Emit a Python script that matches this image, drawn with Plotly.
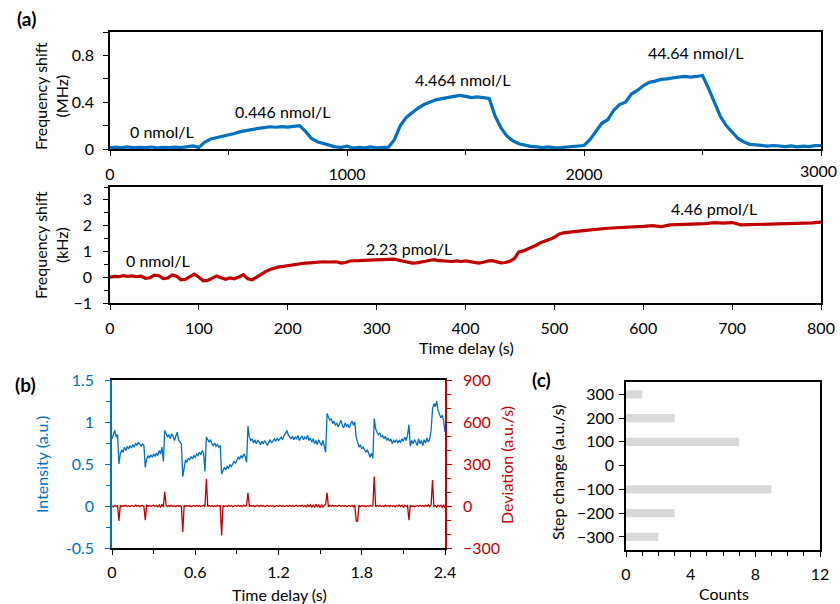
import plotly.graph_objects as go

# ---------------- data ----------------
# (a) top: frequency shift (MHz) vs time delay (s), sampled every 25 s
a1_time = list(range(0, 3001, 25))
a1_shift = [
    0.010, 0.016, 0.012, 0.018, 0.010, 0.015, 0.012, 0.017, 0.010, 0.014,
    0.011, 0.016, 0.012, 0.018, 0.026, 0.014, 0.060, 0.085, 0.095, 0.108,
    0.118, 0.132, 0.148, 0.158, 0.170, 0.176, 0.183, 0.190, 0.186, 0.192,
    0.187, 0.191, 0.200, 0.150, 0.090, 0.062, 0.045, 0.030, 0.018, 0.014,
    0.024, 0.008, 0.015, 0.010, 0.018, 0.010, 0.014, 0.016, 0.080, 0.200,
    0.270, 0.310, 0.350, 0.380, 0.400, 0.420, 0.430, 0.440, 0.452, 0.458,
    0.450, 0.440, 0.446, 0.440, 0.432, 0.280, 0.180, 0.110, 0.070, 0.045,
    0.030, 0.022, 0.018, 0.012, 0.018, 0.010, 0.012, 0.016, 0.018, 0.025,
    0.030, 0.080, 0.150, 0.220, 0.250, 0.330, 0.380, 0.400, 0.470, 0.500,
    0.540, 0.570, 0.580, 0.595, 0.600, 0.610, 0.615, 0.620, 0.615, 0.620,
    0.628, 0.520, 0.400, 0.280, 0.200, 0.140, 0.090, 0.060, 0.040, 0.035,
    0.030, 0.025, 0.030, 0.025, 0.020, 0.026, 0.018, 0.025, 0.020, 0.028,
    0.030,
]
a1_ticks = [0, 1000, 2000, 3000]
a1_labels = ["0 nmol/L", "0.446 nmol/L", "4.464 nmol/L", "44.64 nmol/L"]

# (a) bottom: frequency shift (kHz) vs time delay (s)
a2_time = list(range(0, 561, 5)) + list(range(570, 801, 10))
a2_shift = [
    0.00, 0.03, 0.02, 0.06, 0.03, 0.05, 0.02, 0.04, -0.04, -0.02,
    0.08, 0.06, -0.05, -0.03, 0.09, 0.04, -0.10, -0.08, 0.02, 0.12,
    0.00, -0.14, -0.12, -0.02, 0.05, -0.02, -0.08, -0.03, -0.06, 0.01,
    0.10, -0.06, -0.10, 0.00, 0.12, 0.22, 0.30, 0.36, 0.40, 0.42,
    0.45, 0.48, 0.51, 0.52, 0.55, 0.56, 0.58, 0.57, 0.60, 0.59,
    0.61, 0.60, 0.55, 0.57, 0.63, 0.65, 0.64, 0.65, 0.66, 0.67,
    0.68, 0.70, 0.71, 0.72, 0.70, 0.66, 0.62, 0.58, 0.55, 0.56,
    0.58, 0.62, 0.66, 0.68, 0.64, 0.62, 0.60, 0.61, 0.63, 0.61,
    0.63, 0.60, 0.56, 0.55, 0.58, 0.63, 0.64, 0.60, 0.56, 0.57,
    0.62, 0.72, 0.98, 1.02, 1.10, 1.15, 1.25, 1.35, 1.40, 1.47,
    1.55, 1.67, 1.72, 1.75, 1.77, 1.78, 1.80, 1.82, 1.83, 1.84,
    1.88, 1.90, 1.90,
    1.92, 1.93, 1.95, 1.97, 2.00, 1.96, 2.03, 2.04, 2.06, 2.05,
    2.08, 2.12, 2.10, 2.12, 2.03, 2.04, 2.05, 2.06, 2.04, 2.06,
    2.09, 2.08, 2.11, 2.14,
]
a2_labels = ["0 nmol/L", "2.23 pmol/L", "4.46 pmol/L"]

# (b): intensity (a.u.) and deviation (a.u./s) vs time delay (s), every 0.01 s
b_time = [i / 100 for i in range(241)]
b_intensity = [
    0.80, 0.86, 0.90, 0.82, 0.85, 0.50, 0.62, 0.67, 0.64, 0.70,
    0.66, 0.71, 0.68, 0.72, 0.69, 0.73, 0.70, 0.75, 0.72, 0.76,
    0.73, 0.71, 0.74, 0.72, 0.46, 0.56, 0.60, 0.57, 0.61, 0.58,
    0.62, 0.59, 0.63, 0.60, 0.66, 0.62, 0.70, 0.53, 0.90, 0.86,
    0.82, 0.85, 0.80, 0.86, 0.83, 0.78, 0.82, 0.88, 0.79, 0.76,
    0.74, 0.35, 0.48, 0.55, 0.52, 0.57, 0.55, 0.59, 0.56, 0.60,
    0.58, 0.62, 0.60, 0.64, 0.61, 0.66, 0.63, 0.41, 0.82, 0.78,
    0.76, 0.79, 0.74, 0.72, 0.75, 0.71, 0.73, 0.70, 0.72, 0.38,
    0.42, 0.46, 0.43, 0.47, 0.45, 0.49, 0.47, 0.50, 0.53, 0.51,
    0.55, 0.58, 0.56, 0.60, 0.57, 0.62, 0.59, 0.52, 0.95, 0.82,
    0.78, 0.80, 0.75, 0.79, 0.74, 0.78, 0.76, 0.73, 0.77, 0.74,
    0.78, 0.75, 0.72, 0.76, 0.79, 0.75, 0.78, 0.80, 0.77, 0.81,
    0.78, 0.80, 0.82, 0.79, 0.84, 0.86, 0.90, 0.85, 0.82, 0.80,
    0.83, 0.79, 0.82, 0.80, 0.84, 0.78, 0.81, 0.83, 0.79, 0.82,
    0.80, 0.84, 0.78, 0.81, 0.76, 0.80, 0.74, 0.78, 0.73, 0.79,
    0.75, 0.72, 0.78, 0.70, 0.64, 1.10, 1.06, 1.02, 1.04, 0.98,
    1.01, 0.96, 0.99, 0.94, 0.98, 1.02, 0.96, 0.93, 0.99, 0.95,
    0.97, 0.93, 0.98, 1.01, 0.96, 1.00, 0.82, 0.74, 0.70, 0.73,
    0.68, 0.70, 0.66, 0.64, 0.67, 0.62, 0.58, 0.63, 0.57, 1.04,
    0.92, 0.88, 0.85, 0.87, 0.82, 0.84, 0.80, 0.83, 0.78, 0.81,
    0.77, 0.80, 0.74, 0.78, 0.76, 0.79, 0.75, 0.78, 0.76, 0.80,
    0.77, 0.82, 0.78, 0.84, 0.97, 0.71, 0.78, 0.74, 0.79, 0.76,
    0.72, 0.80, 0.74, 0.78, 0.72, 0.79, 0.75, 0.81, 0.76, 0.80,
    0.90, 1.15, 1.22, 1.18, 1.25, 1.14, 1.10, 1.05, 1.08, 1.02,
    0.88,
]
b_deviation = [
    2, -6, 5, -3, 4, -107, 6, -4, 3, -2,
    5, -3, 2, -5, 4, 1, -4, 6, -2, 3,
    -5, 2, 4, -3, -102, 5, -2, 3, -4, 2,
    6, -3, 4, -6, 8, -10, 12, -6, 102, 5,
    -4, 3, -2, 5, -3, 2, -5, 4, -2, 3,
    -4, -186, 5, -3, 4, -2, 3, -5, 2, 4,
    -3, 5, -2, 3, -4, 2, 5, -3, 195, -4,
    3, -2, 4, -5, 2, -3, 5, -2, 3, -210,
    4, -3, 2, -4, 5, -2, 3, -5, 2, 4,
    -3, 5, -2, 3, -4, 6, -2, 4, 95, -3,
    4, -2, 3, -5, 2, 4, -3, 5, -2, 3,
    -4, 2, 5, -3, 4, -2, 3, -5, 2, 4,
    -3, 5, -2, 3, -4, 2, 4, -3, 5, -2,
    3, -4, 2, 5, -3, 4, -2, 6, -5, 3,
    -6, 8, -4, 10, -8, 6, -10, 12, -6, 8,
    -12, 10, -8, 6, 14, 95, -6, 4, -3, 5,
    -2, 3, -4, 2, 5, -3, 4, -2, 3, -5,
    2, 4, -3, 5, -6, 8, -107, -107, 6, -4,
    3, -2, 4, -5, 2, -3, 5, -2, 3, 210,
    -4, 3, -2, 5, -3, 2, -4, 6, -2, 3,
    -5, 4, -2, 3, -6, 5, -3, 8, -4, 6,
    -8, 5, -3, 4, -102, 6, -4, 3, -5, 2,
    4, -3, 5, -2, 3, -4, 6, -3, 8, -5,
    10, 186, -6, 4, -8, 5, -3, 6, -10, 8,
    -15,
]

# (c): histogram of step changes
c_step = [300, 200, 100, 0, -100, -200, -300]
c_counts = [1, 3, 7, 0, 9, 3, 2]

# ---------------- styling ----------------
W, H = 840, 604
BLUE = "#0070C0"
RED = "#C00000"
FONT = "Lato, 'Open Sans', sans-serif"
TXT = "#000000"


def px(x):
    return x / W


def py(y):
    return 1 - y / H


fig = go.Figure()
fig.add_trace(go.Scatter(x=a1_time, y=a1_shift, mode="lines",
                         line=dict(color=BLUE, width=3.2), xaxis="x", yaxis="y"))
fig.add_trace(go.Scatter(x=a2_time, y=a2_shift, mode="lines",
                         line=dict(color=RED, width=3.2), xaxis="x2", yaxis="y2"))
fig.add_trace(go.Scatter(x=b_time, y=b_intensity, mode="lines",
                         line=dict(color=BLUE, width=1.3), xaxis="x3", yaxis="y3"))
fig.add_trace(go.Scatter(x=b_time, y=b_deviation, mode="lines",
                         line=dict(color=RED, width=1.3), xaxis="x3", yaxis="y4"))
fig.add_trace(go.Bar(x=c_counts, y=c_step, orientation="h", width=35,
                     marker=dict(color="#D9D9D9", line=dict(width=0)),
                     xaxis="x4", yaxis="y5"))

tickfont = dict(family=FONT, size=16, color=TXT)


def ax(**kw):
    base = dict(showline=True, linecolor="black", linewidth=1.5, mirror=True,
                ticks="outside", ticklen=5, tickwidth=1.2, tickcolor="black",
                showgrid=False, zeroline=False, tickfont=tickfont,
                fixedrange=True, automargin=False)
    base.update(kw)
    return base


minor = lambda d, c="black": dict(dtick=d, ticks="outside", ticklen=4,
                                  tickwidth=1.2, tickcolor=c, showgrid=False)

fig.update_layout(
    width=W, height=H, margin=dict(l=0, r=0, t=0, b=0, pad=0), autosize=False,
    paper_bgcolor="white", plot_bgcolor="white", showlegend=False,
    font=dict(family=FONT, size=16, color=TXT),
    xaxis=ax(domain=[px(110), px(821)], range=[0, 3000], anchor="y",
             tickmode="array", tickvals=a1_ticks,
             ticktext=[str(v) for v in a1_ticks[:-1]] + [""],
             minor=minor(500), ticklabelstandoff=5),
    yaxis=ax(domain=[py(149), py(32)], range=[0, 1.0], anchor="x",
             tickmode="array", tickvals=[0, 0.4, 0.8], ticktext=["0", "0.4", "0.8"],
             minor=dict(tickvals=[0.2, 0.6, 1.0], ticks="outside", ticklen=5,
                        tickwidth=1.2, tickcolor="black"),
             ticklabelstandoff=6),
    xaxis2=ax(domain=[px(110), px(821)], range=[0, 800], anchor="y2",
              tickmode="linear", tick0=0, dtick=100, ticklabelstandoff=5),
    yaxis2=ax(domain=[py(303), py(187)], range=[-1, 3.5], anchor="x2",
              tickmode="linear", tick0=0, dtick=1, minor=minor(0.5),
              ticklabelstandoff=8),
    xaxis3=ax(domain=[px(112), px(445)], range=[0, 2.4], anchor="y3",
              tickmode="linear", tick0=0, dtick=0.6, minor=minor(0.3),
              ticklabelstandoff=4),
    yaxis3=ax(domain=[py(548), py(380)], range=[-0.5, 1.5], anchor="x3",
              mirror=False, linecolor=BLUE, tickcolor=BLUE,
              tickfont=dict(family=FONT, size=16, color=BLUE),
              tickmode="array", tickvals=[-0.5, 0, 0.5, 1, 1.5],
              ticktext=["-0.5", "0", "0.5", "1", "1.5"],
              minor=minor(0.25, BLUE), ticklabelstandoff=8),
    yaxis4=ax(domain=[py(548), py(380)], range=[-300, 900], anchor="x3",
              overlaying="y3", side="right", mirror=False,
              linecolor=RED, tickcolor=RED,
              tickfont=dict(family=FONT, size=16, color=RED),
              tickmode="linear", tick0=0, dtick=300, minor=minor(100, RED),
              ticklabelstandoff=8),
    xaxis4=ax(domain=[px(626), px(820)], range=[0, 12], anchor="y5",
              tickmode="linear", tick0=0, dtick=4, minor=minor(1),
              ticklabelstandoff=4),
    yaxis5=ax(domain=[py(550), py(382)], range=[-355, 352], anchor="x4",
              tickmode="linear", tick0=0, dtick=100, ticklabelstandoff=2),
)


def note(text, x, y, size=16, color=TXT, angle=0, bold=False, xanchor="center"):
    fig.add_annotation(text=f"<b>{text}</b>" if bold else text,
                       x=px(x), y=py(y), xref="paper", yref="paper",
                       showarrow=False, textangle=angle,
                       xanchor=xanchor, yanchor="middle",
                       font=dict(family=FONT, size=size, color=color))


# last tick label of the top axis, kept inside the page
note(str(a1_ticks[-1]), 839, 171, xanchor="right")

# curve labels
note(a1_labels[0], 162, 131)
note(a1_labels[1], 282, 111)
note(a1_labels[2], 462, 79)
note(a1_labels[3], 695, 53)
note(a2_labels[0], 158, 261)
note(a2_labels[1], 409, 248)
note(a2_labels[2], 714, 208)

# axis titles
note("Frequency shift<br>(MHz)", 51, 96, angle=-90)
note("Frequency shift<br>(kHz)", 51, 245, angle=-90)
note("Time delay (s)", 466, 348)
note("Intensity (a.u.)", 41, 465, color=BLUE, angle=-90)
note("Deviation (a.u./s)", 506, 465, color=RED, angle=-90)
note("Time delay (s)", 279, 594)
note("Step change (a.u./s)", 557, 472, angle=-90)
note("Counts", 724, 593)

# panel letters
note("(a)", 27, 18, size=19, bold=True)
note("(b)", 25, 384, size=19, bold=True)
note("(c)", 541, 379, size=19, bold=True)

# draw the figure flush with the page corner, with no scrollbars or modebar
fig.write_html(
    "out.html",
    config={"displayModeBar": False},
    post_script="document.body.style.margin='0px';"
                "document.body.style.overflow='hidden';"
                "document.documentElement.style.overflow='hidden';",
)
